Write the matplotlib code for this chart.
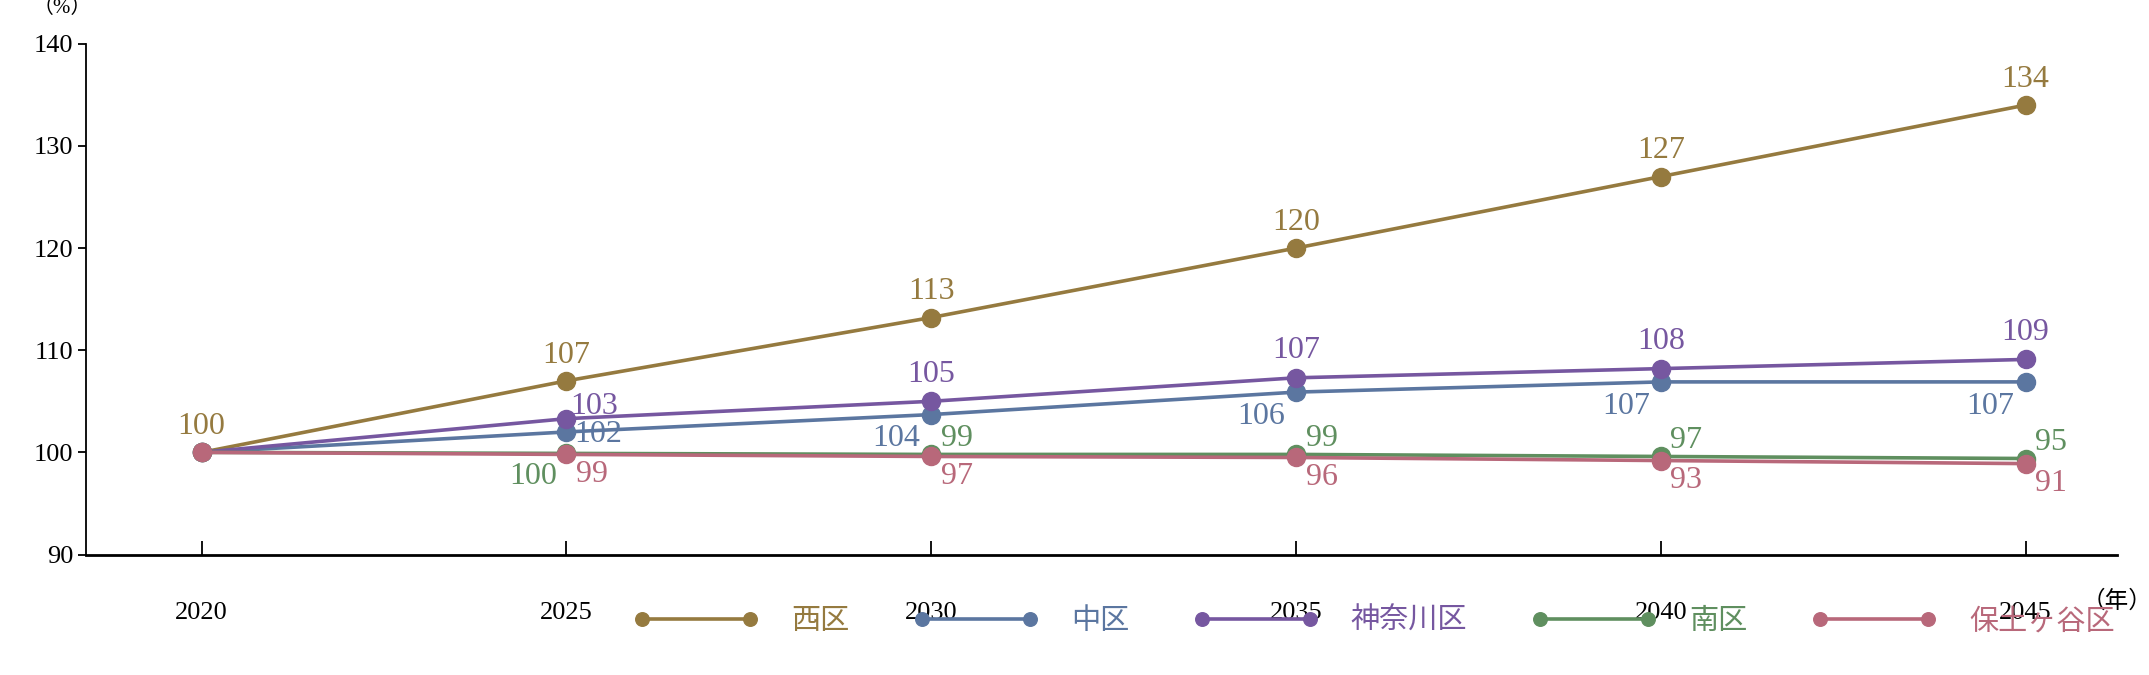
import matplotlib
matplotlib.use("Agg")
import matplotlib.pyplot as plt

plt.rcParams['font.family'] = ['Liberation Serif', 'Noto Sans CJK JP']

years = [2020, 2025, 2030, 2035, 2040, 2045]
names = ['西区', '中区', '神奈川区', '南区', '保土ヶ谷区']
colors = ['#957A3F', '#5B76A0', '#7657A0', '#5F8F5F', '#B8687A']

# plotted positions
nishi = [100, 107, 113.2, 120, 127, 134]
naka = [100, 102, 103.7, 105.9, 106.9, 106.9]
kanagawa = [100, 103.3, 105, 107.3, 108.2, 109.1]
minami = [100, 99.9, 99.8, 99.8, 99.6, 99.4]
hodogaya = [100, 99.8, 99.6, 99.5, 99.2, 98.9]
# printed labels
nishi_lab = ['100', '107', '113', '120', '127', '134']
naka_lab = ['', '102', '104', '106', '107', '107']
kanagawa_lab = ['', '103', '105', '107', '108', '109']
minami_lab = ['', '100', '99', '99', '97', '95']
hodogaya_lab = ['', '99', '97', '96', '93', '91']

series = [nishi, naka, kanagawa, minami, hodogaya]
labels = [nishi_lab, naka_lab, kanagawa_lab, minami_lab, hodogaya_lab]

W, H = 1568, 493  # layout measured on a scaled view
fig = plt.figure(figsize=(21.49, 6.75), dpi=100)
ax = fig.add_axes([63/W, 1-405/H, (1545-63)/W, (405-32)/H])

for vals, c, n in zip(series, colors, names):
    ax.plot(years, vals, color=c, lw=2.6, marker='o', ms=13, label=n)

fs = 23
def lab(s, j, dx, dy, ha, va):
    if labels[s][j]:
        ax.annotate(labels[s][j], (years[j], series[s][j]), xytext=(dx, dy),
                    textcoords='offset points', ha=ha, va=va, color=colors[s], fontsize=fs)

for j in range(6):
    lab(0, j, 0, 8, 'center', 'bottom')
    if j == 1:
        lab(2, j, 3, -2, 'left', 'bottom')
        lab(1, j, 6, -2, 'left', 'center')
        lab(3, j, -7, -6, 'right', 'top')
    else:
        lab(2, j, 0, 9, 'center', 'bottom')
        lab(1, j, -8, -7, 'right', 'top')
        lab(3, j, 7, 1, 'left', 'bottom')
    lab(4, j, 7, -4, 'left', 'top')

ax.set_xlim(2018.42, 2046.26)
ax.set_ylim(90, 140)
ax.set_yticks(range(90, 141, 10))
ax.set_xticks(years)
ax.tick_params(axis='x', direction='in', length=10, width=1.3, pad=34, labelsize=19)
ax.tick_params(axis='y', direction='out', length=6, width=1.3, labelsize=19)
ax.spines['left'].set_linewidth(1.3)
ax.spines['bottom'].set_linewidth(2)
ax.spines['top'].set_visible(False)
ax.spines['right'].set_visible(False)
fig.text(45/W, 1-6/H, '（%）', ha='center', va='center', fontsize=15)
fig.text(1545/W, 1-439/H, '（年）', ha='center', va='center', fontsize=17)

leg = fig.legend(loc='center right', bbox_to_anchor=(1562/W, 1-454/H), ncol=5,
                 frameon=False, numpoints=2, handlelength=4.3, fontsize=21,
                 markerscale=0.75, columnspacing=2.2, handletextpad=1.1)
for t, c in zip(leg.get_texts(), colors):
    t.set_color(c)

fig.savefig('out.png', dpi=100)
